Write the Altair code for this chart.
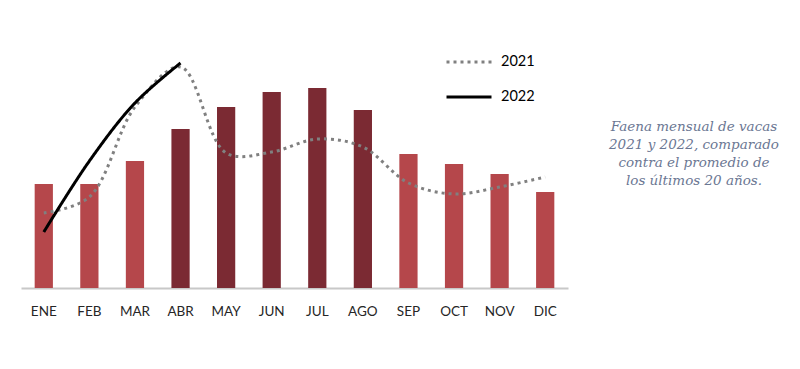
import altair as alt
import pandas as pd

meses = ["ENE", "FEB", "MAR", "ABR", "MAY", "JUN", "JUL", "AGO", "SEP", "OCT", "NOV", "DIC"]
promedio_20 = [104, 104, 127, 159, 181, 196, 200, 178, 134, 124, 114, 96]
faena_2021 = [75, 91, 181, 221, 135, 136, 149, 141, 105, 94, 101, 111]
meses_2022 = ["ENE", "FEB", "MAR", "ABR"]
faena_2022 = [56, 127, 185, 225]
meses_altos = ["ABR", "MAY", "JUN", "JUL", "AGO"]
nota = "Faena mensual de vacas\n2021 y 2022, comparado\ncontra el promedio de\nlos últimos 20 años."

bars_df = pd.DataFrame({"mes": meses, "valor": promedio_20})
lines_df = pd.concat([
    pd.DataFrame({"mes": meses, "valor": faena_2021, "serie": "2021"}),
    pd.DataFrame({"mes": meses_2022, "valor": faena_2022, "serie": "2022"}),
])
note_df = pd.DataFrame({"t": [nota]})

x = alt.X("mes:N", sort=meses, title=None,
          scale=alt.Scale(paddingInner=0.6, paddingOuter=0.3),
          axis=alt.Axis(labelAngle=0, ticks=False, domainColor="#c8c8c8", domainWidth=2,
                        labelFont="Lato", labelFontSize=13.5, labelColor="#262626",
                        labelPadding=16, grid=False))
y = alt.Y("valor:Q", scale=alt.Scale(domain=[0, 268], nice=False), axis=None)

bars = alt.Chart(bars_df).mark_bar().encode(
    x=x, y=y,
    color=alt.condition(alt.FieldOneOfPredicate(field="mes", oneOf=meses_altos),
                        alt.value("#7b2a33"), alt.value("#b5474b")),
)

lines = alt.Chart(lines_df).mark_line(interpolate="catmull-rom", strokeWidth=3).encode(
    x=alt.X("mes:N", sort=meses),
    y="valor:Q",
    color=alt.Color("serie:N", title=None,
                    scale=alt.Scale(domain=["2021", "2022"], range=["#808080", "#000000"])),
    strokeDash=alt.StrokeDash("serie:N", title=None,
                              scale=alt.Scale(domain=["2021", "2022"], range=[[3, 4], [1, 0]])),
)

note = alt.Chart(note_df).mark_text(
    font="DejaVu Serif", fontStyle="italic", fontSize=13.5, color="#6b7793",
    align="center", baseline="middle", lineBreak="\n", lineHeight=18,
).encode(text="t:N", x=alt.value(673), y=alt.value(107))

chart = alt.layer(bars, lines, note).properties(
    width=547, height=268,
    autosize=alt.AutoSizeParams(type="none"),
    padding={"left": 13, "top": 12, "right": 216, "bottom": 61},
).configure_view(strokeWidth=0).configure_legend(
    orient="none", legendX=424, legendY=18, symbolType="stroke",
    symbolSize=2025, symbolStrokeWidth=3, labelFont="Lato", labelFontSize=14.5,
    labelColor="#000000", rowPadding=4, labelOffset=8,
)

chart.save("out.html", embed_options={"renderer": "svg", "actions": False})
